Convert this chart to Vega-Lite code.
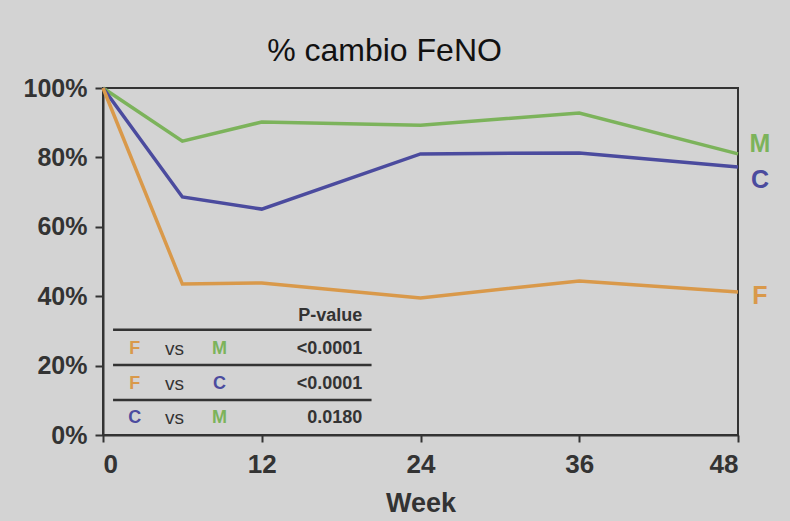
{
  "$schema": "https://vega.github.io/schema/vega-lite/v6.json",
  "autosize": {"type": "none"},
  "width": 635,
  "height": 347,
  "padding": {"left": 103, "top": 88, "right": 52, "bottom": 86},
  "background": "#d3d3d3",
  "config": {
    "view": {"stroke": "#333333", "strokeWidth": 2},
    "font": "Liberation Sans"
  },
  "title": {
    "text": "% cambio FeNO",
    "fontSize": 32,
    "fontWeight": "normal",
    "color": "#111111",
    "anchor": "middle",
    "dx": -36,
    "offset": 8
  },
  "datasets": {
    "series": [
      {"week": 0, "value": 1.0, "group": "M"},
      {"week": 6, "value": 0.847, "group": "M"},
      {"week": 12, "value": 0.902, "group": "M"},
      {"week": 24, "value": 0.893, "group": "M"},
      {"week": 36, "value": 0.928, "group": "M"},
      {"week": 48, "value": 0.81, "group": "M"},
      {"week": 0, "value": 1.0, "group": "C"},
      {"week": 6, "value": 0.686, "group": "C"},
      {"week": 12, "value": 0.651, "group": "C"},
      {"week": 24, "value": 0.81, "group": "C"},
      {"week": 36, "value": 0.813, "group": "C"},
      {"week": 48, "value": 0.772, "group": "C"},
      {"week": 0, "value": 1.0, "group": "F"},
      {"week": 6, "value": 0.435, "group": "F"},
      {"week": 12, "value": 0.438, "group": "F"},
      {"week": 24, "value": 0.395, "group": "F"},
      {"week": 36, "value": 0.444, "group": "F"},
      {"week": 48, "value": 0.412, "group": "F"}
    ],
    "endLabels": [
      {"week": 48, "value": 0.839, "group": "M"},
      {"week": 48, "value": 0.735, "group": "C"},
      {"week": 48, "value": 0.40, "group": "F"}
    ],
    "tableRows": [
      {"a": "F", "b": "M", "p": "<0.0001", "ypos": 0.248},
      {"a": "F", "b": "C", "p": "<0.0001", "ypos": 0.147},
      {"a": "C", "b": "M", "p": "0.0180", "ypos": 0.049}
    ],
    "tableLines": [
      {"x1": 0.76, "x2": 20.3, "ypos": 0.303},
      {"x1": 0.76, "x2": 20.3, "ypos": 0.202},
      {"x1": 0.76, "x2": 20.3, "ypos": 0.101}
    ],
    "tableHeader": [
      {"week": 19.6, "ypos": 0.343, "label": "P-value"}
    ]
  },
  "layer": [
    {
      "data": {"name": "series"},
      "mark": {"type": "line", "strokeWidth": 3.5},
      "encoding": {
        "x": {
          "field": "week", "type": "quantitative",
          "scale": {"domain": [0, 48], "nice": false},
          "axis": {
            "values": [0, 12, 24, 36, 48],
            "title": "Week",
            "titleFontSize": 27,
            "titleFontWeight": "bold",
            "titleColor": "#333333",
            "titlePadding": 13,
            "labelFontSize": 26,
            "labelFontWeight": "bold",
            "labelColor": "#333333",
            "labelPadding": 9,
            "tickSize": 7,
            "tickWidth": 2,
            "tickColor": "#333333",
            "domainColor": "#333333",
            "domainWidth": 2,
            "grid": false
          }
        },
        "y": {
          "field": "value", "type": "quantitative",
          "scale": {"domain": [0, 1], "nice": false},
          "axis": {
            "values": [0, 0.2, 0.4, 0.6, 0.8, 1.0],
            "format": ".0%",
            "title": null,
            "labelFontSize": 25,
            "labelFontWeight": "bold",
            "labelColor": "#333333",
            "labelPadding": 8,
            "tickSize": 8,
            "tickWidth": 2,
            "tickColor": "#333333",
            "domainColor": "#333333",
            "domainWidth": 2,
            "grid": false
          }
        },
        "color": {
          "field": "group", "type": "nominal",
          "scale": {"domain": ["F", "C", "M"], "range": ["#d9994a", "#4b4b9e", "#7cb35b"]},
          "legend": null
        },
        "detail": {"field": "group"}
      }
    },
    {
      "data": {"name": "endLabels"},
      "mark": {"type": "text", "fontSize": 25, "fontWeight": "bold", "dx": 22, "align": "center", "baseline": "middle"},
      "encoding": {
        "x": {"field": "week", "type": "quantitative"},
        "y": {"field": "value", "type": "quantitative"},
        "text": {"field": "group"},
        "color": {"field": "group", "type": "nominal", "legend": null}
      }
    },
    {
      "data": {"name": "tableLines"},
      "mark": {"type": "rule", "strokeWidth": 2.5, "color": "#333333"},
      "encoding": {
        "x": {"field": "x1", "type": "quantitative"},
        "x2": {"field": "x2"},
        "y": {"field": "ypos", "type": "quantitative"}
      }
    },
    {
      "data": {"name": "tableHeader"},
      "mark": {"type": "text", "fontSize": 18, "fontWeight": "bold", "align": "right", "baseline": "middle", "color": "#333333"},
      "encoding": {
        "x": {"field": "week", "type": "quantitative"},
        "y": {"field": "ypos", "type": "quantitative"},
        "text": {"field": "label"}
      }
    },
    {
      "data": {"name": "tableRows"},
      "mark": {"type": "text", "fontSize": 18, "fontWeight": "bold", "align": "center", "baseline": "middle"},
      "encoding": {
        "x": {"datum": 2.4, "type": "quantitative"},
        "y": {"field": "ypos", "type": "quantitative"},
        "text": {"field": "a"},
        "color": {"field": "a", "type": "nominal", "legend": null}
      }
    },
    {
      "data": {"name": "tableRows"},
      "mark": {"type": "text", "fontSize": 19, "fontWeight": "normal", "align": "center", "baseline": "middle", "color": "#333333", "text": "vs"},
      "encoding": {
        "x": {"datum": 5.4, "type": "quantitative"},
        "y": {"field": "ypos", "type": "quantitative"}
      }
    },
    {
      "data": {"name": "tableRows"},
      "mark": {"type": "text", "fontSize": 18, "fontWeight": "bold", "align": "center", "baseline": "middle"},
      "encoding": {
        "x": {"datum": 8.8, "type": "quantitative"},
        "y": {"field": "ypos", "type": "quantitative"},
        "text": {"field": "b"},
        "color": {"field": "b", "type": "nominal", "legend": null}
      }
    },
    {
      "data": {"name": "tableRows"},
      "mark": {"type": "text", "fontSize": 18, "fontWeight": "bold", "align": "right", "baseline": "middle", "color": "#333333"},
      "encoding": {
        "x": {"datum": 19.6, "type": "quantitative"},
        "y": {"field": "ypos", "type": "quantitative"},
        "text": {"field": "p"}
      }
    }
  ]
}
